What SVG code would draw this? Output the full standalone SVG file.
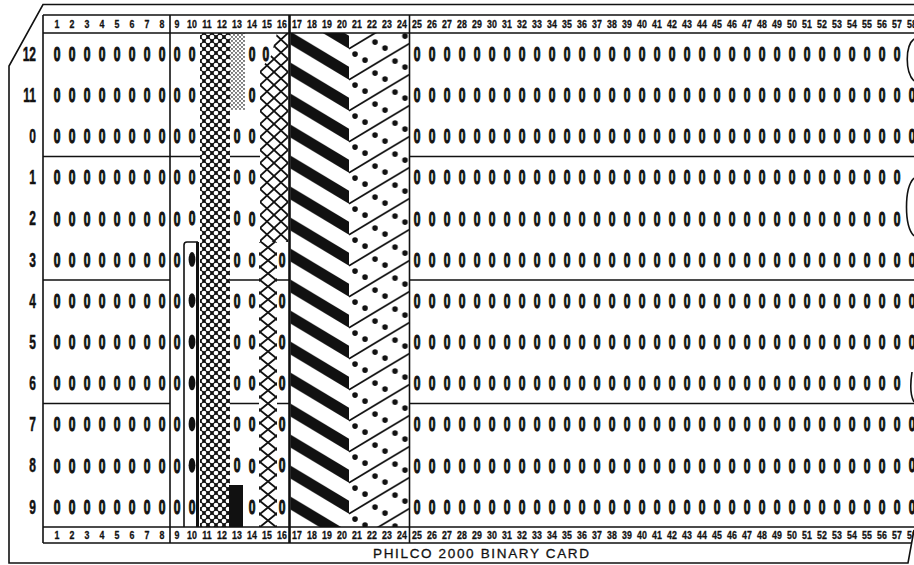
<svg xmlns="http://www.w3.org/2000/svg" width="914" height="565" viewBox="0 0 914 565">
<style>
.ln{stroke:#111;fill:none;stroke-width:1.6}
.thk{stroke:#111;fill:none;stroke-width:2.6}
.z{font-family:"Liberation Sans",Arial,sans-serif;font-weight:bold;font-size:20px;fill:#111;stroke:#111;stroke-width:1.1;text-anchor:middle}
.lbl{font-family:"Liberation Sans",Arial,sans-serif;font-weight:bold;font-size:20px;fill:#111;stroke:#111;stroke-width:0.5;text-anchor:end}
.num{font-family:"Liberation Sans",Arial,sans-serif;font-weight:bold;font-size:11px;fill:#111;stroke:#111;stroke-width:0.3;text-anchor:middle}
.title{font-family:"Liberation Sans",Arial,sans-serif;font-size:13.5px;fill:#111;stroke:#111;stroke-width:0.3;text-anchor:middle}
.dot{fill:#111}
</style>
<defs>
<clipPath id="card"><polygon points="43,4 914,4 914,530 908,563 9,563 9,66"/></clipPath>
<pattern id="checker" patternUnits="userSpaceOnUse" x="200" y="33" width="8" height="8">
<rect width="8" height="8" fill="#111"/>
<circle cx="0" cy="0" r="2.35" fill="#fff"/><circle cx="8" cy="0" r="2.35" fill="#fff"/><circle cx="0" cy="8" r="2.35" fill="#fff"/><circle cx="8" cy="8" r="2.35" fill="#fff"/><circle cx="4" cy="4" r="2.35" fill="#fff"/>
</pattern>
<pattern id="stipple" patternUnits="userSpaceOnUse" x="230" y="33" width="4" height="4">
<rect width="4" height="4" fill="#111"/>
<circle cx="0" cy="0" r="1.4" fill="#fff"/><circle cx="4" cy="0" r="1.4" fill="#fff"/><circle cx="0" cy="4" r="1.4" fill="#fff"/><circle cx="4" cy="4" r="1.4" fill="#fff"/><circle cx="2" cy="2" r="1.4" fill="#fff"/>
</pattern>
<pattern id="lattice" patternUnits="userSpaceOnUse" x="260" y="33" width="14" height="13">
<path d="M-14,-13 L28,26 M28,-13 L-14,26" stroke="#111" stroke-width="1.8" fill="none"/>
</pattern>
<pattern id="chain" patternUnits="userSpaceOnUse" x="260" y="33" width="16" height="13">
<path d="M-16,-13 L32,26 M32,-13 L-16,26" stroke="#111" stroke-width="1.8" fill="none"/>
</pattern>
<pattern id="stripes" patternUnits="userSpaceOnUse" x="289.5" y="31" width="59.5" height="31">
<polygon points="0,0 59.5,35.7 59.5,48.7 0,13" fill="#111"/>
<polygon points="0,-31 59.5,4.7 59.5,17.7 0,-18" fill="#111"/>
</pattern>
<pattern id="dots" patternUnits="userSpaceOnUse" x="349" y="31" width="60.5" height="31">
<path d="M0,17.7 L60.5,-18.6 M0,48.7 L60.5,12.4" stroke="#111" stroke-width="1.8" fill="none"/>
<circle class="dot" cx="6" cy="23.1" r="2.8"/>
<circle class="dot" cx="26" cy="11.1" r="2.8"/>
<circle class="dot" cx="46" cy="30.1" r="2.8"/>
<circle class="dot" cx="46" cy="-0.9" r="2.8"/>
<circle class="dot" cx="16" cy="29.1" r="2.8"/>
<circle class="dot" cx="16" cy="-1.9" r="2.8"/>
<circle class="dot" cx="36" cy="17.1" r="2.8"/>
<circle class="dot" cx="56" cy="5.1" r="2.8"/>
</pattern>
<g id="colnums">
<text class="num" y="0"><tspan x="71.25">1</tspan><tspan x="90">2</tspan><tspan x="108.75">3</tspan><tspan x="127.5">4</tspan><tspan x="146.25">5</tspan><tspan x="165">6</tspan><tspan x="183.75">7</tspan><tspan x="202.5">8</tspan><tspan x="221.25">9</tspan><tspan x="240">10</tspan><tspan x="258.75">11</tspan><tspan x="277.5">12</tspan><tspan x="296.25">13</tspan><tspan x="315">14</tspan><tspan x="333.75">15</tspan><tspan x="352.5">16</tspan><tspan x="371.25">17</tspan><tspan x="390">18</tspan><tspan x="408.75">19</tspan><tspan x="427.5">20</tspan><tspan x="446.25">21</tspan><tspan x="465">22</tspan><tspan x="483.75">23</tspan><tspan x="502.5">24</tspan><tspan x="521.25">25</tspan><tspan x="540">26</tspan><tspan x="558.75">27</tspan><tspan x="577.5">28</tspan><tspan x="596.25">29</tspan><tspan x="615">30</tspan><tspan x="633.75">31</tspan><tspan x="652.5">32</tspan><tspan x="671.25">33</tspan><tspan x="690">34</tspan><tspan x="708.75">35</tspan><tspan x="727.5">36</tspan><tspan x="746.25">37</tspan><tspan x="765">38</tspan><tspan x="783.75">39</tspan><tspan x="802.5">40</tspan><tspan x="821.25">41</tspan><tspan x="840">42</tspan><tspan x="858.75">43</tspan><tspan x="877.5">44</tspan><tspan x="896.25">45</tspan><tspan x="915">46</tspan><tspan x="933.75">47</tspan><tspan x="952.5">48</tspan><tspan x="971.25">49</tspan><tspan x="990">50</tspan><tspan x="1008.75">51</tspan><tspan x="1027.5">52</tspan><tspan x="1046.25">53</tspan><tspan x="1065">54</tspan><tspan x="1083.75">55</tspan><tspan x="1102.5">56</tspan><tspan x="1121.25">57</tspan><tspan x="1140">58</tspan></text>
</g>
<text id="baserow" class="z" y="0" x="95 120 145 170 195 220 245 270 295 420 695 720 745 770 795 820 845 870 895 920 945 970 995 1020 1045 1070 1095 1120 1145 1170 1195 1220 1245 1270 1295 1320 1345 1370 1395 1420 1445 1470 1495">0000000000000000000000000000000000000000000</text>
</defs>

<rect width="914" height="565" fill="#fff"/>

<g id="dividers">
<path class="ln" d="M43,156.5 H200 M230,156.5 H260 M409.5,156.5 H914 M43,280 H170 M230,280 H259 M277,280 H289.5 M409.5,280 H914 M43,403.5 H170 M230,403.5 H259 M277,403.5 H289.5 M409.5,403.5 H914"/>
</g>

<g id="patterns">
<rect x="200" y="33" width="30" height="494" fill="url(#checker)"/>
<rect x="230" y="33" width="15" height="77" fill="url(#stipple)"/>
<polygon points="277,33 288.3,33 288.3,242 260,242 260,70 271,56" fill="url(#lattice)"/>
<rect x="259" y="242" width="18" height="285" fill="url(#chain)"/>
<rect x="290.5" y="33" width="58.5" height="494" fill="url(#stripes)"/>
<rect x="349" y="33" width="60" height="494" fill="url(#dots)"/>
<rect x="229" y="485" width="14" height="42" fill="#111"/>
<path class="ln" d="M184,527 V245 Q184,242 187,242 H198"/>
<path stroke="#111" stroke-width="3" d="M197.5,242 V527"/>
<g fill="#111">
<ellipse cx="192" cy="259.4" rx="3.4" ry="7.4"/>
<ellipse cx="192" cy="300.6" rx="3.4" ry="7.4"/>
<ellipse cx="192" cy="341.8" rx="3.4" ry="7.4"/>
<ellipse cx="192" cy="382.9" rx="3.4" ry="7.4"/>
<ellipse cx="192" cy="424.1" rx="3.4" ry="7.4"/>
<ellipse cx="192" cy="465.3" rx="3.4" ry="7.4"/>
</g>
</g>

<g id="frame">
<path class="ln" d="M914,4.5 H43 L9,66 V563 H908 L914,530"/>
<path class="ln" d="M43,15 H914 M43,33 H914 M43,527 H914 M43,543 H911.6 M43,15 V543 M170,15 V543 M409.5,15 V543"/>
<path class="thk" d="M289.5,15 V543"/>
<path class="ln" d="M914,39 C905,46 905,72 914,81 M914,178 C904,188 904,226 914,236 M912,372 C910,385 910,395 914,402"/>
</g>

<g id="zeros" transform="scale(0.6,1)">
<use href="#baserow" y="60.8"/>
<use href="#baserow" y="102"/>
<use href="#baserow" y="143.1"/>
<use href="#baserow" y="184.3"/>
<use href="#baserow" y="225.5"/>
<use href="#baserow" y="266.6"/>
<use href="#baserow" y="307.8"/>
<use href="#baserow" y="349"/>
<use href="#baserow" y="390.1"/>
<use href="#baserow" y="431.3"/>
<use href="#baserow" y="472.5"/>
<use href="#baserow" y="513.6"/>
<text class="z" x="320 320 320 320 320 320" y="60.8 102 143.1 184.3 225.5 513.6">000000</text>
<text class="z" x="395 395 395 395 395 395 395 395 395" y="143.1 184.3 225.5 266.6 307.8 349 390.1 431.3 472.5">000000000</text>
<text class="z" x="443" y="60.8">0</text>
<text class="z" x="470 470 470 470 470 470 470" y="266.6 307.8 349 390.1 431.3 472.5 513.6">0000000</text>
<text class="z" x="1520 1520 1520 1520 1520 1520 1520 1520" y="102 143.1 266.6 307.8 349 431.3 472.5 513.6">00000000</text>
<text class="lbl" x="60" y="60.8">12</text>
<text class="lbl" x="60" y="102">11</text>
<text class="lbl" x="60" y="143.1">0</text>
<text class="lbl" x="60" y="184.3">1</text>
<text class="lbl" x="60" y="225.5">2</text>
<text class="lbl" x="60" y="266.6">3</text>
<text class="lbl" x="60" y="307.8">4</text>
<text class="lbl" x="60" y="349">5</text>
<text class="lbl" x="60" y="390.1">6</text>
<text class="lbl" x="60" y="431.3">7</text>
<text class="lbl" x="60" y="472.5">8</text>
<text class="lbl" x="60" y="513.6">9</text>
</g>

<g id="column-numbers" clip-path="url(#card)">
<g transform="scale(0.8,1)">
<use href="#colnums" y="27.6"/>
<use href="#colnums" y="539"/>
</g>
</g>

<g id="caption">
<text class="title" x="481" y="558" textLength="216" lengthAdjust="spacing">PHILCO 2000 BINARY CARD</text>
</g>
</svg>
